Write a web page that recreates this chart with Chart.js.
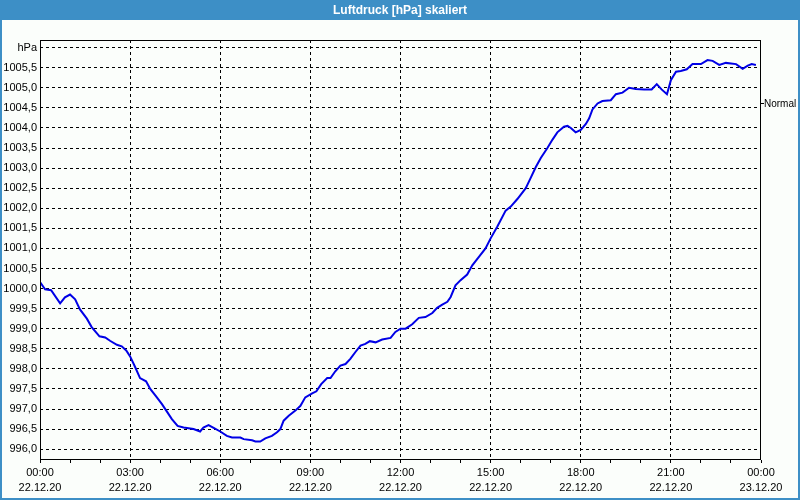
<!DOCTYPE html>
<html>
<head>
<meta charset="utf-8">
<script src="https://cdn.jsdelivr.net/npm/chart.js@4.4.1/dist/chart.umd.min.js"></script>
<style>
html, body { margin: 0; padding: 0; background: #fbfefb; }
#wrap { width: 800px; height: 500px; position: relative; }
</style>
</head>
<body>
<div id="wrap"><canvas id="pressChart"></canvas></div>
<script>
const chartTitle = 'Luftdruck [hPa] skaliert';

// Stunden seit 22.12.20 00:00 und Luftdruck in hPa
const hours = [
  0.00, 0.17, 0.37, 0.67, 0.83, 1.00, 1.17, 1.33, 1.56, 1.72, 1.98, 2.17, 2.33, 2.56, 2.72, 2.87,
  3.00, 3.17, 3.33, 3.53, 3.67, 3.89, 4.06, 4.22, 4.39, 4.58, 4.78, 5.11, 5.33, 5.44, 5.61, 5.78,
  6.00, 6.22, 6.39, 6.67, 6.78, 7.06, 7.17, 7.33, 7.50, 7.72, 7.89, 8.00, 8.11, 8.28, 8.50, 8.67, 8.83,
  9.06, 9.20, 9.36, 9.56, 9.67, 9.83, 10.00, 10.17, 10.33, 10.50, 10.67, 10.83, 10.98, 11.17, 11.39, 11.67, 11.83,
  12.00, 12.17, 12.39, 12.61, 12.83, 13.06, 13.22, 13.39, 13.56, 13.67, 13.83, 14.00, 14.22, 14.39, 14.61, 14.83,
  15.00, 15.22, 15.50, 15.67, 15.89, 16.17, 16.33, 16.50, 16.67, 16.89, 17.06, 17.22, 17.44, 17.56, 17.67, 17.83,
  18.00, 18.17, 18.28, 18.39, 18.56, 18.72, 19.00, 19.17, 19.39, 19.61, 19.83, 20.11, 20.36, 20.53, 20.69, 20.87,
  21.00, 21.17, 21.33, 21.53, 21.72, 22.00, 22.22, 22.39, 22.61, 22.83, 23.17, 23.39, 23.56, 23.69, 23.83
];
const pressure = [
  1000.16, 999.98, 999.96, 999.63, 999.78, 999.85, 999.73, 999.48, 999.25, 999.04, 998.81, 998.78, 998.70, 998.60, 998.56, 998.46,
  998.31, 998.04, 997.77, 997.69, 997.50, 997.29, 997.12, 996.94, 996.75, 996.58, 996.54, 996.50, 996.44, 996.54, 996.60, 996.53,
  996.44, 996.33, 996.29, 996.29, 996.25, 996.22, 996.19, 996.19, 996.27, 996.33, 996.42, 996.50, 996.71, 996.83, 996.96, 997.08, 997.29,
  997.39, 997.44, 997.62, 997.77, 997.77, 997.94, 998.08, 998.12, 998.25, 998.42, 998.58, 998.62, 998.69, 998.66, 998.73, 998.77, 998.92,
  999.00, 999.00, 999.11, 999.27, 999.29, 999.39, 999.52, 999.60, 999.67, 999.79, 1000.08, 1000.21, 1000.35, 1000.58, 1000.79, 1001.00,
  1001.25, 1001.54, 1001.94, 1002.04, 1002.23, 1002.50, 1002.75, 1003.02, 1003.25, 1003.50, 1003.71, 1003.89, 1004.03, 1004.05, 1004.00, 1003.89,
  1003.95, 1004.10, 1004.24, 1004.46, 1004.61, 1004.67, 1004.69, 1004.84, 1004.88, 1005.00, 1004.97, 1004.96, 1004.96, 1005.09, 1004.96, 1004.84,
  1005.19, 1005.40, 1005.42, 1005.46, 1005.59, 1005.59, 1005.69, 1005.67, 1005.57, 1005.62, 1005.59, 1005.47, 1005.55, 1005.59, 1005.57
];

// Achsenbeschriftung
const majorHours = [0, 3, 6, 9, 12, 15, 18, 21, 24];
const timeLabels = ['00:00', '03:00', '06:00', '09:00', '12:00', '15:00', '18:00', '21:00', '00:00'];
const dateLabels = ['22.12.20', '22.12.20', '22.12.20', '22.12.20', '22.12.20', '22.12.20', '22.12.20', '22.12.20', '23.12.20'];
const yTicks = [996, 996.5, 997, 997.5, 998, 998.5, 999, 999.5, 1000, 1000.5, 1001, 1001.5, 1002, 1002.5,
  1003, 1003.5, 1004, 1004.5, 1005, 1005.5, 1006];
const unitLabel = 'hPa';
const normalValue = 1004.6;
const normalLabel = 'Normal';

const BLUE_BAR = '#3d8fc6';

const framePlugin = {
  id: 'frame',
  beforeDraw(chart) {
    const c = chart.ctx;
    c.save();
    c.fillStyle = '#fbfefb';
    c.fillRect(0, 0, chart.width, chart.height);
    c.fillStyle = BLUE_BAR;
    c.fillRect(0, 0, chart.width, 20);
    c.fillStyle = '#ffffff';
    c.font = 'bold 12px "Liberation Sans"';
    c.textAlign = 'center';
    c.textBaseline = 'middle';
    c.fillText(chartTitle, chart.width / 2, 10.5);
    c.fillStyle = BLUE_BAR;
    c.fillRect(0, 0, 2, chart.height);
    c.fillRect(chart.width - 2, 0, 2, chart.height);
    c.fillRect(0, chart.height - 2, chart.width, 2);
    c.restore();
  },
  afterDraw(chart) {
    const a = chart.chartArea;
    const c = chart.ctx;
    c.save();
    c.strokeStyle = '#000';
    c.lineWidth = 1;
    c.strokeRect(a.left + 0.5, a.top + 0.5, a.right - a.left - 1, a.bottom - a.top - 1);
    c.restore();
  }
};

Chart.defaults.font.family = '"Liberation Sans", sans-serif';
Chart.defaults.font.size = 11;
Chart.defaults.color = '#000';

new Chart(document.getElementById('pressChart'), {
  type: 'line',
  data: {
    datasets: [{
      data: hours.map((h, i) => ({ x: h, y: pressure[i] })),
      borderColor: '#0000e6',
      borderWidth: 2,
      pointRadius: 0,
      tension: 0,
      fill: false
    }]
  },
  options: {
    responsive: true,
    maintainAspectRatio: false,
    animation: false,
    layout: { padding: { top: 40, left: 0, right: 0, bottom: 0 } },
    plugins: { legend: { display: false }, tooltip: { enabled: false }, title: { display: false } },
    scales: {
      x: {
        type: 'linear',
        min: 0,
        max: 24,
        afterBuildTicks: s => { s.ticks = Array.from({ length: 25 }, (_, i) => ({ value: i })); },
        afterFit: s => { s.height = 40; },
        ticks: {
          autoSkip: false,
          maxRotation: 0,
          padding: 3,
          font: { size: 11, lineHeight: 1.35 },
          callback: v => {
            const i = majorHours.indexOf(v);
            return i >= 0 ? [timeLabels[i], dateLabels[i]] : '';
          }
        },
        grid: {
          color: ctx => (ctx.tick && ctx.tick.value % 3 === 0 && ctx.tick.value > 0 && ctx.tick.value < 24) ? '#000' : 'rgba(0,0,0,0)',
          tickColor: '#000',
          tickLength: 3,
          tickBorderDash: [],
          lineWidth: 1
        },
        border: { display: false, dash: [3, 3] }
      },
      y: {
        min: 995.73,
        max: 1006.19,
        afterBuildTicks: s => { s.ticks = yTicks.map(v => ({ value: v })); },
        afterFit: s => { s.width = 40; },
        ticks: {
          padding: 3,
          callback: v => v === 1006 ? unitLabel : v.toFixed(1).replace('.', ',')
        },
        grid: { color: '#000', drawTicks: false, lineWidth: 1 },
        border: { display: false, dash: [3, 3] }
      },
      y2: {
        position: 'right',
        min: 995.73,
        max: 1006.19,
        afterBuildTicks: s => { s.ticks = [{ value: normalValue }]; },
        afterFit: s => { s.width = 39; },
        ticks: { padding: 0, font: { size: 10 }, callback: () => normalLabel },
        grid: { drawOnChartArea: false, tickLength: 3, tickColor: '#000', tickBorderDash: [] },
        border: { display: false }
      }
    }
  },
  plugins: [framePlugin]
});
</script>
</body>
</html>
